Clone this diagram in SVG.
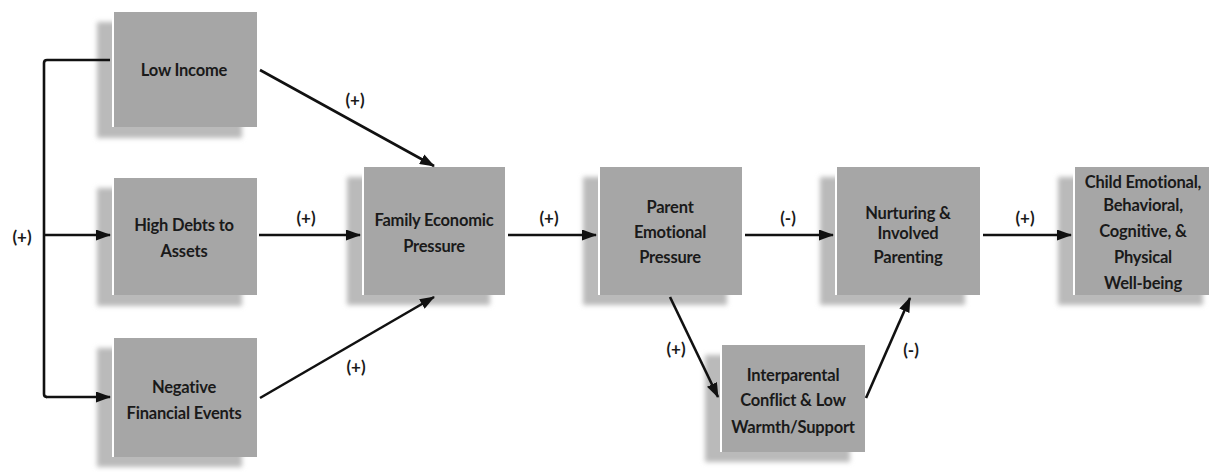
<svg xmlns="http://www.w3.org/2000/svg" width="1209" height="472" viewBox="0 0 1209 472">
<defs>
<filter id="blur" x="-20%" y="-20%" width="140%" height="140%"><feGaussianBlur stdDeviation="2.5"/></filter>
<marker id="arr" viewBox="0 0 15 11" refX="14" refY="5.5" markerWidth="15" markerHeight="11" markerUnits="userSpaceOnUse" orient="auto"><path d="M0,0 L15,5.5 L0,11 z" fill="#111"/></marker>
<style>
.sh{fill:#bababa;filter:url(#blur)}
.bx{fill:#a6a6a6}
.hl{stroke:#ffffff;stroke-width:2}
.t{font-family:Lato,"Liberation Sans",sans-serif;font-weight:bold;font-size:16.5px;fill:#1a1a1a;text-anchor:middle;letter-spacing:-0.2px}
.lb{font-family:Lato,"Liberation Sans",sans-serif;font-weight:bold;font-size:17px;fill:#1a1a1a;text-anchor:middle}
.c{fill:none;stroke:#111;stroke-width:2.6;marker-end:url(#arr)}
.cn{fill:none;stroke:#111;stroke-width:2.6}
</style>
</defs>
<rect width="1209" height="472" fill="#ffffff"/>

<g id="low-income">
<rect class="sh" x="97" y="22" width="145" height="116"/>
<rect class="bx" x="112" y="12" width="145" height="115"/>
<line class="hl" x1="113" y1="12" x2="113" y2="127"/>
<text class="t" x="184" y="76">Low Income</text>
</g>
<g id="high-debts">
<rect class="sh" x="97" y="188" width="145" height="118"/>
<rect class="bx" x="112" y="178" width="145" height="117"/>
<line class="hl" x1="113" y1="178" x2="113" y2="295"/>
<text class="t" x="184" y="231">High Debts to</text>
<text class="t" x="184" y="257">Assets</text>
</g>
<g id="negative-events">
<rect class="sh" x="97" y="348" width="145" height="119"/>
<rect class="bx" x="112" y="338" width="145" height="119"/>
<line class="hl" x1="113" y1="338" x2="113" y2="457"/>
<text class="t" x="184" y="393">Negative</text>
<text class="t" x="184" y="419">Financial Events</text>
</g>
<g id="family-pressure">
<rect class="sh" x="347" y="177" width="143" height="128"/>
<rect class="bx" x="362" y="167" width="143" height="128"/>
<line class="hl" x1="363" y1="167" x2="363" y2="295"/>
<text class="t" x="434" y="226">Family Economic</text>
<text class="t" x="434" y="252">Pressure</text>
</g>
<g id="parent-pressure">
<rect class="sh" x="583" y="177" width="144" height="128"/>
<rect class="bx" x="598" y="167" width="144" height="128"/>
<line class="hl" x1="599" y1="167" x2="599" y2="295"/>
<text class="t" x="670" y="213">Parent</text>
<text class="t" x="670" y="238">Emotional</text>
<text class="t" x="670" y="263">Pressure</text>
</g>
<g id="interparental">
<rect class="sh" x="705" y="355" width="145" height="107"/>
<rect class="bx" x="720" y="345" width="145" height="107"/>
<line class="hl" x1="721" y1="345" x2="721" y2="452"/>
<text class="t" x="793" y="381">Interparental</text>
<text class="t" x="793" y="406">Conflict &amp; Low</text>
<text class="t" x="793" y="433">Warmth/Support</text>
</g>
<g id="nurturing">
<rect class="sh" x="820" y="177" width="145" height="128"/>
<rect class="bx" x="835" y="167" width="145" height="128"/>
<line class="hl" x1="836" y1="167" x2="836" y2="295"/>
<text class="t" x="908" y="219">Nurturing &amp;</text>
<text class="t" x="908" y="239">Involved</text>
<text class="t" x="908" y="263">Parenting</text>
</g>
<g id="child-wellbeing">
<rect class="sh" x="1058" y="177" width="145" height="128"/>
<rect class="bx" x="1073" y="167" width="145" height="128"/>
<line class="hl" x1="1074" y1="167" x2="1074" y2="295"/>
<text class="t" x="1143" y="188">Child Emotional,</text>
<text class="t" x="1143" y="211">Behavioral,</text>
<text class="t" x="1143" y="237">Cognitive, &amp;</text>
<text class="t" x="1143" y="263">Physical</text>
<text class="t" x="1143" y="289">Well-being</text>
</g>

<g id="connectors">
<path class="cn" d="M110,60 H47 Q44,60 44,63 V394 Q44,397 47,397"/>
<path class="c" d="M46,397 H110"/>
<path class="c" d="M44,235 H110"/>
<path class="c" d="M260,70 L434,166"/>
<path class="c" d="M259,235 H360"/>
<path class="c" d="M260,398 L434,297"/>
<path class="c" d="M508,235 H596"/>
<path class="c" d="M745,235 H833"/>
<path class="c" d="M983,235 H1071"/>
<path class="c" d="M670,297 L718,397"/>
<path class="c" d="M866,398 L910,298"/>
<text class="lb" x="22" y="243">(+)</text>
<text class="lb" x="355" y="106">(+)</text>
<text class="lb" x="306" y="224">(+)</text>
<text class="lb" x="356" y="373">(+)</text>
<text class="lb" x="549" y="224">(+)</text>
<text class="lb" x="788" y="224">(-)</text>
<text class="lb" x="1025" y="224">(+)</text>
<text class="lb" x="676" y="355">(+)</text>
<text class="lb" x="911" y="356">(-)</text>
</g>
</svg>
